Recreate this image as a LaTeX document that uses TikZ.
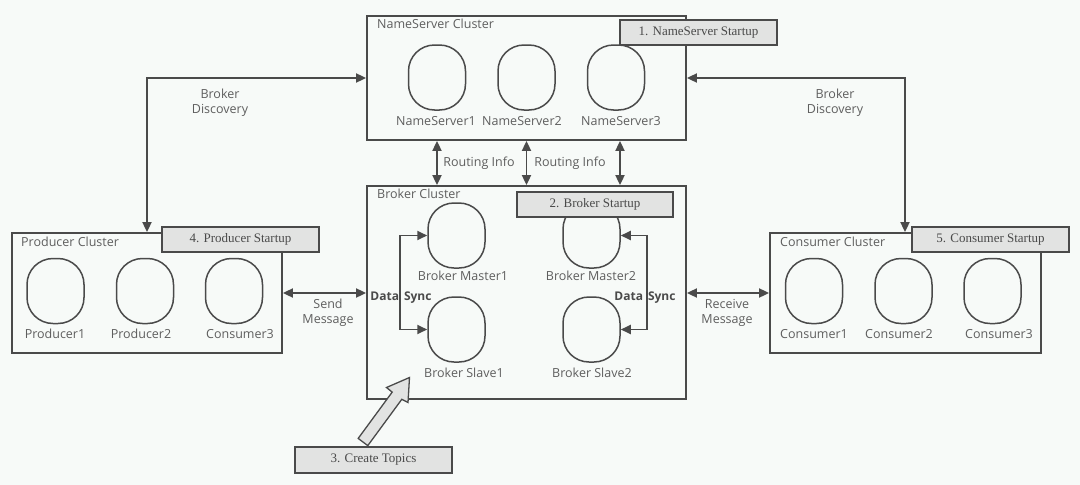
\documentclass[tikz,border=0pt]{standalone}
\usepackage{fontspec}
\setmainfont{Liberation Serif}
\newfontfamily\lblfont{Open Sans}
\usetikzlibrary{arrows.meta,calc}
\definecolor{bg}{HTML}{F7FAF8}
\definecolor{ln}{HTML}{4A4A4A}
\definecolor{tx}{HTML}{5E5E5E}
\definecolor{tagfill}{HTML}{E2E3E2}
\begin{document}
\begin{tikzpicture}[x=1pt,y=-1pt,
  cluster/.style={draw=ln,line width=1.8pt,minimum width=#1,inner sep=0pt},
  oval/.style={draw=ln,line width=1.5pt,rounded corners=26pt,minimum width=57pt,minimum height=65pt,inner sep=0pt},
  tag/.style={draw=ln,line width=1.8pt,fill=tagfill,inner sep=0pt,minimum height=25pt,font=\fontsize{13}{15}\selectfont,text=ln},
  lbl/.style={font=\lblfont\fontsize{12.5}{14}\selectfont,text=tx,inner sep=0pt,anchor=base},
  ttl/.style={font=\lblfont\fontsize{12.5}{14}\selectfont,text=tx,inner sep=0pt,anchor=base west},
  bold/.style={font=\lblfont\bfseries\fontsize{12}{14}\selectfont,text=ln,inner sep=0pt,anchor=base},
  conn/.style={draw=ln,line width=1.8pt,{Triangle[length=10pt,width=9pt]}-{Triangle[length=10pt,width=9pt]}}
]
\fill[bg] (0,0) rectangle (1080,485);
\useasboundingbox (0,0) rectangle (1080,485);

% clusters
\node[cluster=319pt,minimum height=124pt] (ns) at (526.5,78) {};
\node[cluster=319pt,minimum height=213pt] (bc) at (526.5,292.5) {};
\node[cluster=270pt,minimum height=120pt] (pc) at (147,293) {};
\node[cluster=271pt,minimum height=120pt] (cc) at (905.5,293) {};

\node[ttl] (nst) at (377,28) {NameServer Cluster};
\node[ttl] (bct) at (377,198) {Broker Cluster};
\node[ttl] (pct) at (21,246) {Producer Cluster};
\node[ttl] (cct) at (780,246) {Consumer Cluster};

% nameservers
\node[oval] (ns1) at (437,77.5) {};
\node[oval] (ns2) at (526.5,77.5) {};
\node[oval] (ns3) at (616,77.5) {};
\node[lbl] (ns1l) at (436,125) {NameServer1};
\node[lbl] (ns2l) at (522,125) {NameServer2};
\node[lbl] (ns3l) at (621,125) {NameServer3};

% brokers
\node[oval] (bm1) at (456.5,235.5) {};
\node[oval] (bm2) at (591.5,235.5) {};
\node[oval] (bs1) at (456.5,329.5) {};
\node[oval] (bs2) at (591.5,329.5) {};
\node[lbl] (bm1l) at (463,280) {Broker Master1};
\node[lbl] (bm2l) at (591,280) {Broker Master2};
\node[lbl] (bs1l) at (464,377) {Broker Slave1};
\node[lbl] (bs2l) at (592,377) {Broker Slave2};

% producers
\node[oval] (p1) at (55.5,291) {};
\node[oval] (p2) at (145,291) {};
\node[oval] (p3) at (234,291) {};
\node[lbl] (p1l) at (55,338) {Producer1};
\node[lbl] (p2l) at (141,338) {Producer2};
\node[lbl] (p3l) at (240,338) {Consumer3};

% consumers
\node[oval] (c1) at (814,291) {};
\node[oval] (c2) at (903.5,291) {};
\node[oval] (c3) at (992.5,291) {};
\node[lbl] (c1l) at (814,338) {Consumer1};
\node[lbl] (c2l) at (899,338) {Consumer2};
\node[lbl] (c3l) at (999,338) {Consumer3};

% tags
\node[tag,minimum width=157pt] (t1) at (698.5,32.5) {1. NameServer Startup};
\node[tag,minimum width=156pt] (t2) at (595,204.5) {2. Broker Startup};
\node[tag,minimum width=157pt] (t4) at (240.5,239.5) {4. Producer Startup};
\node[tag,minimum width=157pt] (t5) at (990.5,239.5) {5. Consumer Startup};
\node[tag,minimum width=157pt,minimum height=26pt] (t3) at (373.5,460) {3. Create Topics};

% routing info
\coordinate (r3) at (620,0);
\draw[conn] (ns.south -| ns1) -- (bc.north -| ns1);
\draw[conn] (ns.south -| ns2) -- (bc.north -| ns2);
\draw[conn] (ns.south -| r3) -- (bc.north -| r3);
\node[lbl] (ri1) at (479,166) {Routing Info};
\node[lbl] (ri2) at (570,166) {Routing Info};

% broker discovery
\coordinate (bdl) at (147,0);
\coordinate (bdr) at (905,0);
\draw[conn] (ns.west) -| (pc.north -| bdl);
\draw[conn] (ns.east) -| (cc.north -| bdr);
\node[lbl] (bd1a) at (220,98) {Broker};
\node[lbl] (bd1b) at (220,113) {Discovery};
\node[lbl] (bd2a) at (835,98) {Broker};
\node[lbl] (bd2b) at (835,113) {Discovery};

% send / receive
\draw[conn] (pc.east) -- (bc.west |- pc.east);
\draw[conn] (bc.east |- cc.west) -- (cc.west);
\node[lbl] (sm1) at (328,308) {Send};
\node[lbl] (sm2) at (328,323) {Message};
\node[lbl] (rm1) at (727,308) {Receive};
\node[lbl] (rm2) at (727,323) {Message};

% data sync
\draw[conn] (bm1.west) -- ++(-27,0) |- (bs1.west);
\draw[conn] (bm2.east) -- ++(26,0) |- (bs2.east);
\node[bold] (ds1) at (401,300) {Data\hspace{5pt}Sync};
\node[bold] (ds2) at (645,300) {Data\hspace{5pt}Sync};

% create topics fat arrow
\draw[ln,line width=1.3pt,fill=tagfill,line join=miter]
  (367.8,445.6) -- (358.2,438.4) -- (392.2,392.1) -- (386.5,387.5) -- (409.5,377.5)
  -- (408,402.5) -- (401.8,399.3) -- cycle;
\end{tikzpicture}
\end{document}
